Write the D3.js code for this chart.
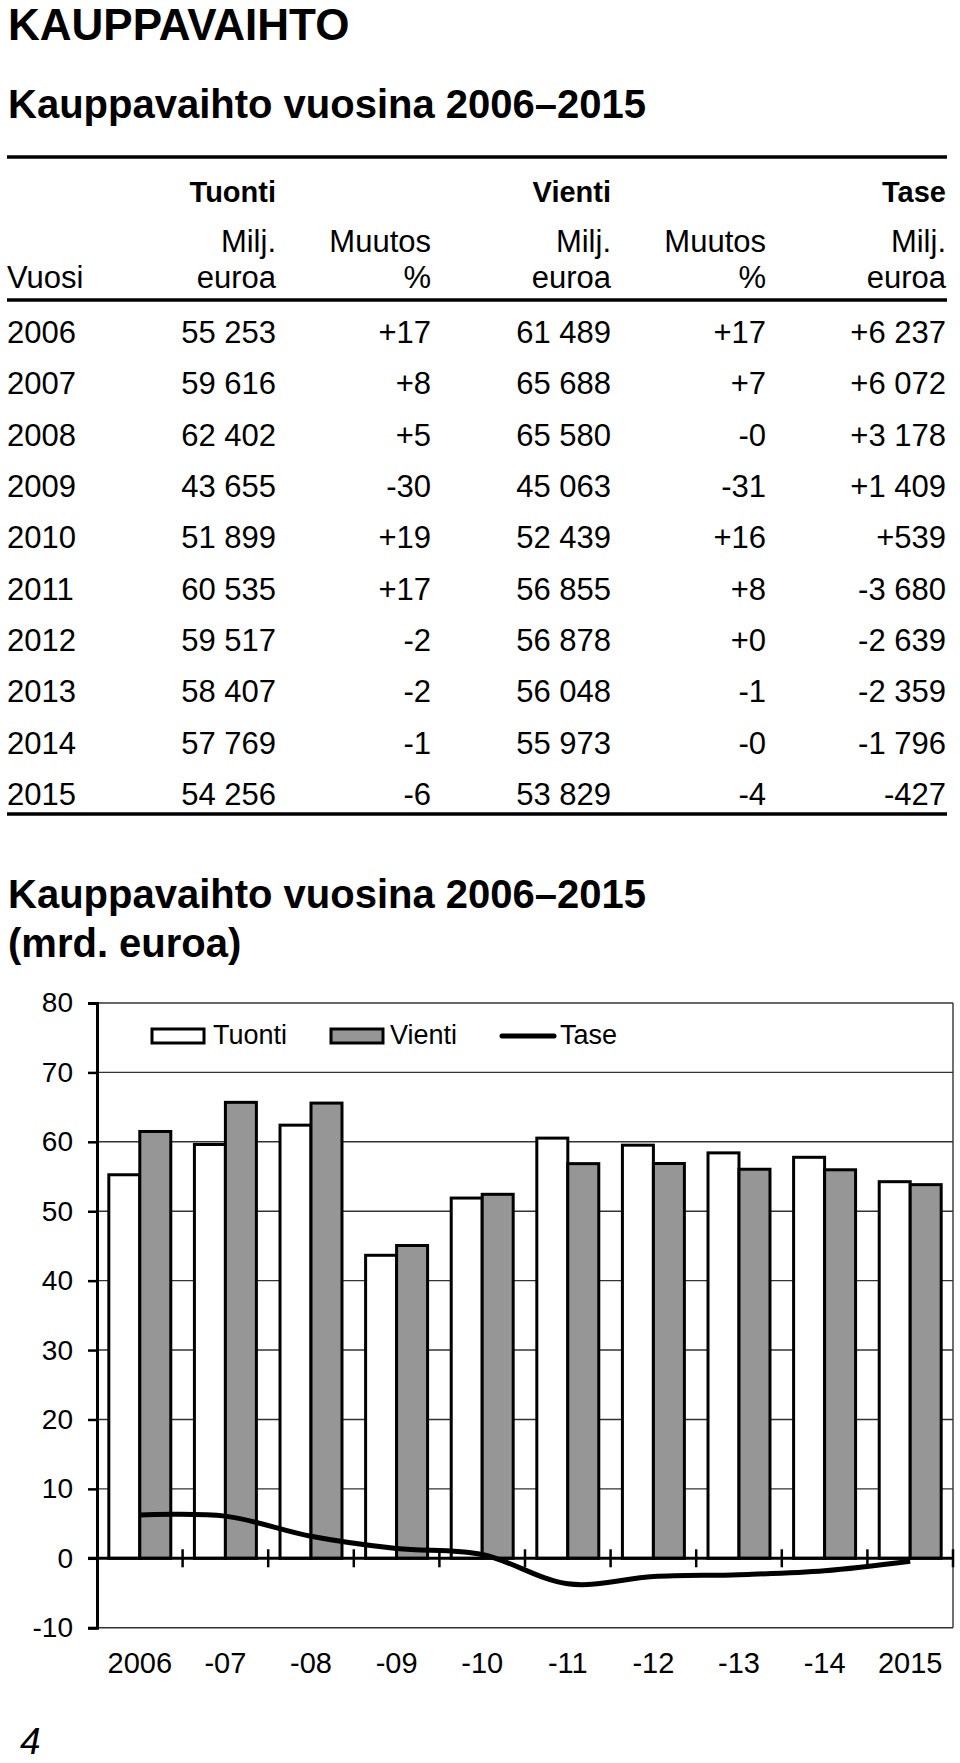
<!DOCTYPE html>
<html>
<head>
<meta charset="utf-8">
<script src="https://cdn.jsdelivr.net/npm/d3@7"></script>
<style>
  body { margin: 0; background: #fff; }
  svg text { font-family: "Liberation Sans", Arial, sans-serif; fill: #000; }
</style>
</head>
<body>
<svg width="960" height="1763"></svg>
<script>
// data
var years = ["2006","2007","2008","2009","2010","2011","2012","2013","2014","2015"]
var xLabels = ["2006","-07","-08","-09","-10","-11","-12","-13","-14","2015"]
var tuonti = [55253, 59616, 62402, 43655, 51899, 60535, 59517, 58407, 57769, 54256]
var tuontiMuutos = ["+17","+8","+5","-30","+19","+17","-2","-2","-1","-6"]
var vienti = [61489, 65688, 65580, 45063, 52439, 56855, 56878, 56048, 55973, 53829]
var vientiMuutos = ["+17","+7","-0","-31","+16","+8","+0","-1","-0","-4"]
var tase = [6237, 6072, 3178, 1409, 539, -3680, -2639, -2359, -1796, -427]
var yTicks = [-10, 0, 10, 20, 30, 40, 50, 60, 70, 80]
var seriesNames = ["Tuonti", "Vienti"]

var svg = d3.select("svg")

var fi = d3.formatLocale({decimal: ",", thousands: " ", grouping: [3], currency: ["", " €"], minus: "-"})
var fmt = fi.format(",")
var fmtSign = fi.format("+,")

// headings
svg.append("text").attr("x", 8).attr("y", 40)
    .style("font-size", "44px").style("font-weight", "bold").text("KAUPPAVAIHTO")
svg.append("text").attr("x", 8).attr("y", 118)
    .style("font-size", "40px").style("font-weight", "bold").text("Kauppavaihto vuosina 2006–2015")

// ---------- table ----------
var colRight = [276, 431, 611, 766, 946]
var ruleL = 7, ruleR = 947

var rule = function(y)
{
    svg.append("line").attr("x1", ruleL).attr("x2", ruleR)
        .attr("y1", y).attr("y2", y)
        .style("stroke", "#000").style("stroke-width", 3.5)
}
rule(157)
rule(300)
rule(814)

var tText = function(x, y, txt, anchor, bold)
{
    svg.append("text").attr("x", x).attr("y", y)
        .attr("text-anchor", anchor || "end")
        .style("font-size", bold ? "29px" : "31px")
        .style("font-weight", bold ? "bold" : "normal")
        .text(txt)
}

tText(colRight[0], 201.5, "Tuonti", "end", true)
tText(colRight[2], 201.5, "Vienti", "end", true)
tText(colRight[4], 201.5, "Tase", "end", true)
;[0, 2, 4].forEach(function(c){
    tText(colRight[c], 251.5, "Milj.")
    tText(colRight[c], 288, "euroa")
})
;[1, 3].forEach(function(c){
    tText(colRight[c], 251.5, "Muutos")
    tText(colRight[c], 288, "%")
})
tText(7, 288, "Vuosi", "start")

var rowY = d3.scaleLinear().domain([0, years.length - 1]).range([343, 805])
years.forEach(function(yr, i){
    var y = rowY(i)
    tText(7, y, yr, "start")
    tText(colRight[0], y, fmt(tuonti[i]))
    tText(colRight[1], y, tuontiMuutos[i])
    tText(colRight[2], y, fmt(vienti[i]))
    tText(colRight[3], y, vientiMuutos[i])
    tText(colRight[4], y, fmtSign(tase[i]))
})

// ---------- chart ----------
svg.append("text").attr("x", 8).attr("y", 908)
    .style("font-size", "40px").style("font-weight", "bold").text("Kauppavaihto vuosina 2006–2015")
svg.append("text").attr("x", 8).attr("y", 957)
    .style("font-size", "40px").style("font-weight", "bold").text("(mrd. euroa)")

var plot = {left: 97, right: 953, top: 1003, bottom: 1627.7}

var x = d3.scaleBand().domain(years).range([plot.left, plot.right])
    .paddingInner(0.276).paddingOuter(0.138)
var xSub = d3.scaleBand().domain(seriesNames).range([0, x.bandwidth()])
var y = d3.scaleLinear().domain([-10, 80]).range([plot.bottom, plot.top])

var chart = svg.append("g")

// gridlines and frame
chart.append("g").selectAll("line")
    .data(yTicks.filter(function(t){ return t != 0 }))
    .enter().append("line")
    .attr("x1", plot.left).attr("x2", plot.right)
    .attr("y1", function(t){ return y(t) }).attr("y2", function(t){ return y(t) })
    .style("stroke", "#333").style("stroke-width", 1.4)
chart.append("line")
    .attr("x1", plot.right).attr("x2", plot.right)
    .attr("y1", plot.top).attr("y2", plot.bottom)
    .style("stroke", "#333").style("stroke-width", 1.4)

// bars
var barData = []
years.forEach(function(yr, i){
    barData.push({year: yr, s: "Tuonti", v: tuonti[i] / 1000})
    barData.push({year: yr, s: "Vienti", v: vienti[i] / 1000})
})
chart.append("g").selectAll("rect")
    .data(barData)
    .enter().append("rect")
    .attr("x", function(d){ return x(d.year) + xSub(d.s) })
    .attr("width", xSub.bandwidth())
    .attr("y", function(d){ return y(d.v) })
    .attr("height", function(d){ return y(0) - y(d.v) })
    .style("fill", function(d){ return d.s == "Tuonti" ? "#fff" : "#969696" })
    .style("stroke", "#000").style("stroke-width", 3)

// y axis
var yAxis = chart.append("g")
    .attr("transform", "translate(" + plot.left + ",0)")
    .call(d3.axisLeft(y).tickValues(yTicks).tickSize(9).tickPadding(15).tickFormat(fi.format("d")))
yAxis.select(".domain").style("stroke-width", 3)
yAxis.selectAll(".tick line").style("stroke-width", 2.5)
yAxis.selectAll("text").style("font-size", "28px")
    .style("font-family", "'Liberation Sans', Arial, sans-serif")

// zero line with crossing ticks at category boundaries
chart.append("line")
    .attr("x1", plot.left - 9).attr("x2", plot.right)
    .attr("y1", y(0)).attr("y2", y(0))
    .style("stroke", "#000").style("stroke-width", 3)
var bounds = years.map(function(yr){ return x(yr) - x.step() * x.paddingOuter() + x.step() })
chart.append("g").selectAll("line")
    .data(bounds)
    .enter().append("line")
    .attr("x1", function(b){ return b }).attr("x2", function(b){ return b })
    .attr("y1", y(0) - 9).attr("y2", y(0) + 9)
    .style("stroke", "#000").style("stroke-width", 2.5)

// category labels
chart.append("g").selectAll("text")
    .data(years)
    .enter().append("text")
    .attr("x", function(yr){ return x(yr) + x.bandwidth() / 2 })
    .attr("y", 1672.5)
    .attr("text-anchor", "middle")
    .style("font-size", "29px")
    .text(function(yr, i){ return xLabels[i] })

// balance line (smoothed like the original)
var taseLine = d3.line()
    .x(function(d, i){ return x(years[i]) + x.bandwidth() / 2 })
    .y(function(d){ return y(d / 1000) })
    .curve(d3.curveCatmullRom.alpha(0))
chart.append("path")
    .datum(tase)
    .attr("d", taseLine)
    .style("fill", "none").style("stroke", "#000").style("stroke-width", 5)

// legend
var legend = chart.append("g").attr("class", "legend")
var legendBoxes = [
    {name: "Tuonti", fill: "#fff", x: 152, tx: 213},
    {name: "Vienti", fill: "#969696", x: 331, tx: 390}
]
legendBoxes.forEach(function(l){
    legend.append("rect").attr("x", l.x).attr("y", 1029).attr("width", 52).attr("height", 14)
        .style("fill", l.fill).style("stroke", "#000").style("stroke-width", 3)
    legend.append("text").attr("x", l.tx).attr("y", 1044).style("font-size", "27px").text(l.name)
})
legend.append("line").attr("x1", 502).attr("x2", 554).attr("y1", 1036).attr("y2", 1036)
    .style("stroke", "#000").style("stroke-width", 5).style("stroke-linecap", "round")
legend.append("text").attr("x", 560).attr("y", 1044).style("font-size", "27px").text("Tase")

// page number
svg.append("text").attr("x", 20).attr("y", 1754)
    .style("font-size", "37px").style("font-style", "italic").text("4")
</script>
</body>
</html>
